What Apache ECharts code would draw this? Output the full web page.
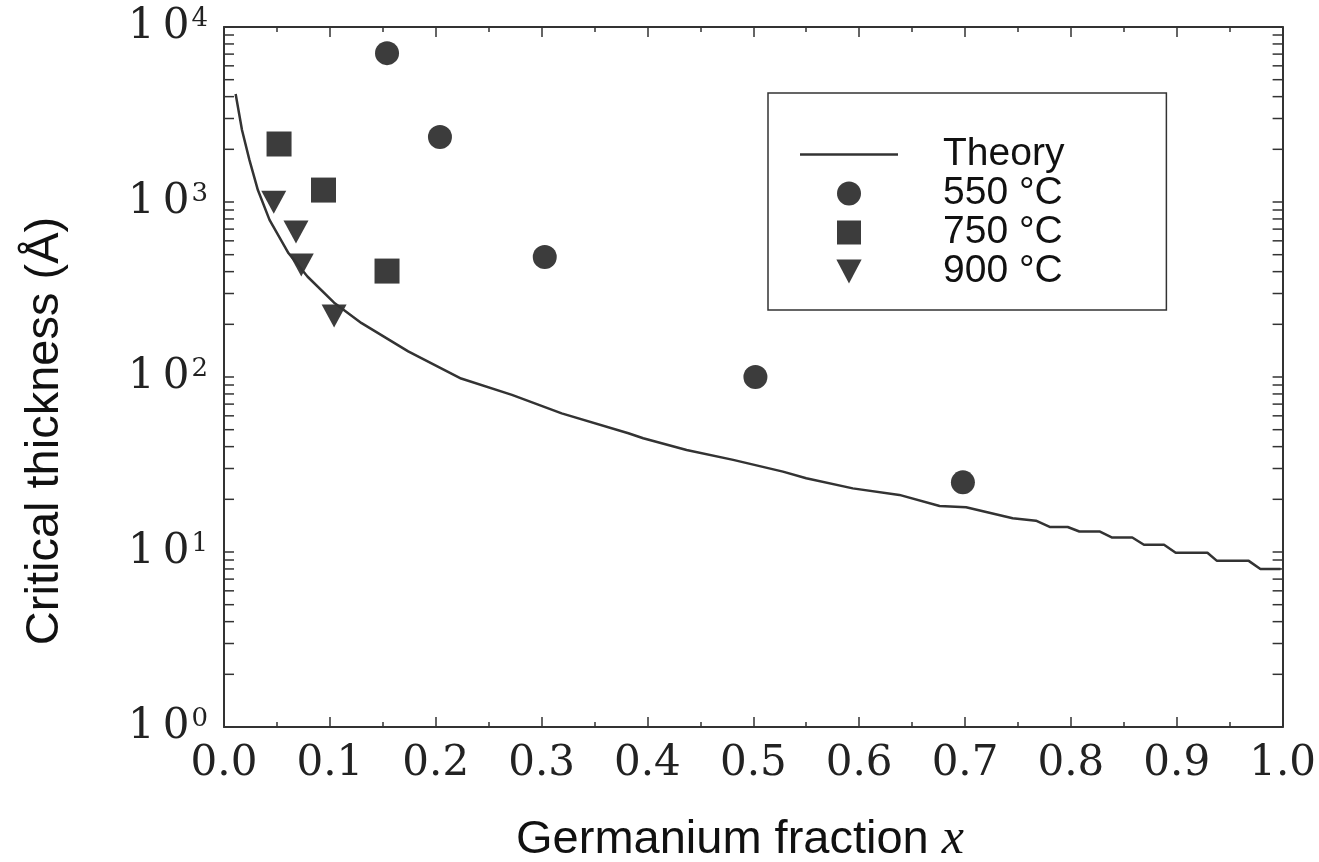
<!DOCTYPE html>
<html>
<head>
<meta charset="utf-8">
<script src="https://cdn.jsdelivr.net/npm/echarts@6/dist/echarts.min.js"></script>
<style>
  html, body { margin: 0; padding: 0; background: #fff; }
  #chart { width: 1319px; height: 862px; }
</style>
</head>
<body>
<div id="chart"></div>
<script>
// theory curve
const theoryX = [0.011, 0.017, 0.024, 0.032, 0.043, 0.061, 0.079, 0.104, 0.130, 0.174,
  0.224, 0.272, 0.319, 0.382, 0.396, 0.437, 0.481, 0.528, 0.550, 0.594, 0.638, 0.676,
  0.701, 0.745, 0.767, 0.780, 0.797, 0.808, 0.827, 0.839, 0.858, 0.869, 0.888, 0.899,
  0.929, 0.938, 0.968, 0.979, 0.998];
const theoryY = [4140, 2580, 1740, 1170, 790, 509, 374, 266, 203, 140,
  98, 79, 62, 47.7, 44.7, 38.3, 33.6, 28.8, 26.4, 23.1, 21.2, 18.3,
  18.0, 15.6, 15.1, 13.9, 13.9, 13.1, 13.1, 12.1, 12.1, 11.0, 11.0, 9.9,
  9.9, 8.9, 8.9, 8.0, 8.0];

// measured points
const t550X = [0.154, 0.204, 0.303, 0.502, 0.698];
const t550Y = [7090, 2350, 485, 100, 25];
const t750X = [0.052, 0.094, 0.154];
const t750Y = [2145, 1170, 403];
const t900X = [0.047, 0.068, 0.073, 0.104];
const t900Y = [996, 674, 436, 223];

const minorValues = [];
[1, 10, 100, 1000].forEach(d => {
  for (let k = 2; k <= 9; k++) minorValues.push(d * k);
});

const zip = (xs, ys) => xs.map((x, i) => [x, ys[i]]);

let chartDom = document.getElementById("chart");
let myChart = echarts.init(chartDom);

const serif = "DejaVu Serif";
const sans = "Liberation Sans";
const ink = "#333";
const markColor = "#3c3c3c";
const downTriangle = "path://M0,0 L10,0 L5,9.5 Z";
const square = "path://M0,0 L10,0 L10,10 L0,10 Z";

const xAxisBase = {
  type: "value",
  min: 0,
  max: 1,
  interval: 0.1,
  axisLine: { show: true, onZero: false, lineStyle: { color: ink, width: 2 } },
  axisTick: { show: true, inside: true, length: 10, lineStyle: { color: ink, width: 1.5 } },
  minorTick: { show: true, splitNumber: 2, length: 5, lineStyle: { color: ink, width: 1.5 } },
  splitLine: { show: false },
};

const yAxisBase = {
  type: "log",
  logBase: 10,
  min: 1,
  max: 10000,
  axisLine: { show: true, onZero: false, lineStyle: { color: ink, width: 2 } },
  axisTick: { show: true, inside: true, length: 10, lineStyle: { color: ink, width: 1.5 } },
  splitLine: { show: false },
};

let option = {
  backgroundColor: "#fff",
  animation: false,
  grid: { left: 224, right: 33, top: 27, bottom: 135 },
  xAxis: [
    Object.assign({}, xAxisBase, {
      position: "bottom",
      axisLabel: {
        show: true,
        margin: 16,
        fontFamily: serif,
        fontSize: 42,
        color: "#222",
        formatter: v => v.toFixed(1),
      },
    }),
    Object.assign({}, xAxisBase, { position: "top", axisLabel: { show: false } }),
  ],
  yAxis: [
    Object.assign({}, yAxisBase, {
      position: "left",
      axisLabel: {
        show: true,
        margin: 16,
        formatter: v => "{b|1}{c|0}{e|" + Math.round(Math.log10(v)) + "}",
        rich: {
          b: { fontFamily: serif, fontSize: 42, color: "#222", lineHeight: 42 },
          c: { fontFamily: serif, fontSize: 42, color: "#222", lineHeight: 42, padding: [0, 0, 0, 8] },
          e: { fontFamily: serif, fontSize: 26, color: "#222", verticalAlign: "top", lineHeight: 26, padding: [0, 0, 0, 2] },
        },
      },
    }),
    Object.assign({}, yAxisBase, { position: "right", axisLabel: { show: false } }),
  ],
  legend: {
    orient: "vertical",
    left: 768,
    top: 93,
    padding: [42, 102, 19, 32],
    borderColor: ink,
    borderWidth: 1.5,
    borderRadius: 0,
    itemWidth: 98,
    itemHeight: 24,
    itemGap: 0,
    textStyle: { fontFamily: sans, fontSize: 39, color: "#111", padding: [0, 0, 0, 40] },
    data: [
      { name: "Theory", icon: "path://M0,0 L98,0 L98,2.5 L0,2.5 Z" },
      { name: "550 °C", icon: "circle" },
      { name: "750 °C", icon: square },
      { name: "900 °C", icon: downTriangle },
    ],
  },
  graphic: [
    {
      type: "text",
      x: 45,
      y: 431,
      rotation: Math.PI / 2,
      style: {
        text: "Critical thickness (Å)",
        fontFamily: sans,
        fontSize: 47,
        fill: "#111",
        align: "center",
        verticalAlign: "middle",
      },
    },
    {
      type: "text",
      x: 740,
      y: 840,
      style: {
        text: "{a|Germanium fraction }{i|x}",
        align: "center",
        verticalAlign: "middle",
        rich: {
          a: { fontFamily: sans, fontSize: 47, fill: "#111" },
          i: { fontFamily: "Liberation Serif", fontStyle: "italic", fontSize: 50, fill: "#111" },
        },
      },
    },
  ],
  series: [
    {
      name: "Theory",
      type: "line",
      data: zip(theoryX, theoryY),
      symbol: "none",
      smooth: false,
      lineStyle: { color: ink, width: 2.5 },
      itemStyle: { color: ink },
    },
    {
      name: "550 °C",
      type: "scatter",
      data: zip(t550X, t550Y),
      symbol: "circle",
      symbolSize: 24,
      itemStyle: { color: markColor, opacity: 1 },
    },
    {
      name: "750 °C",
      type: "scatter",
      data: zip(t750X, t750Y),
      symbol: "rect",
      symbolSize: 25,
      itemStyle: { color: markColor, opacity: 1 },
    },
    {
      name: "900 °C",
      type: "scatter",
      data: zip(t900X, t900Y),
      symbol: downTriangle,
      symbolSize: [25, 23],
      itemStyle: { color: markColor, opacity: 1 },
    },
    {
      // minor ticks of the log axes, left and right
      type: "custom",
      silent: true,
      data: minorValues.map(v => [0, v]),
      renderItem: function (params, api) {
        const v = api.value(1);
        const l = api.coord([0, v]);
        const r = api.coord([1, v]);
        const style = { stroke: ink, lineWidth: 1.5 };
        return {
          type: "group",
          children: [
            { type: "line", shape: { x1: l[0], y1: l[1], x2: l[0] + 10, y2: l[1] }, style: style },
            { type: "line", shape: { x1: r[0], y1: r[1], x2: r[0] - 10, y2: r[1] }, style: style },
          ],
        };
      },
    },
  ],
};

option && myChart.setOption(option);
</script>
</body>
</html>
